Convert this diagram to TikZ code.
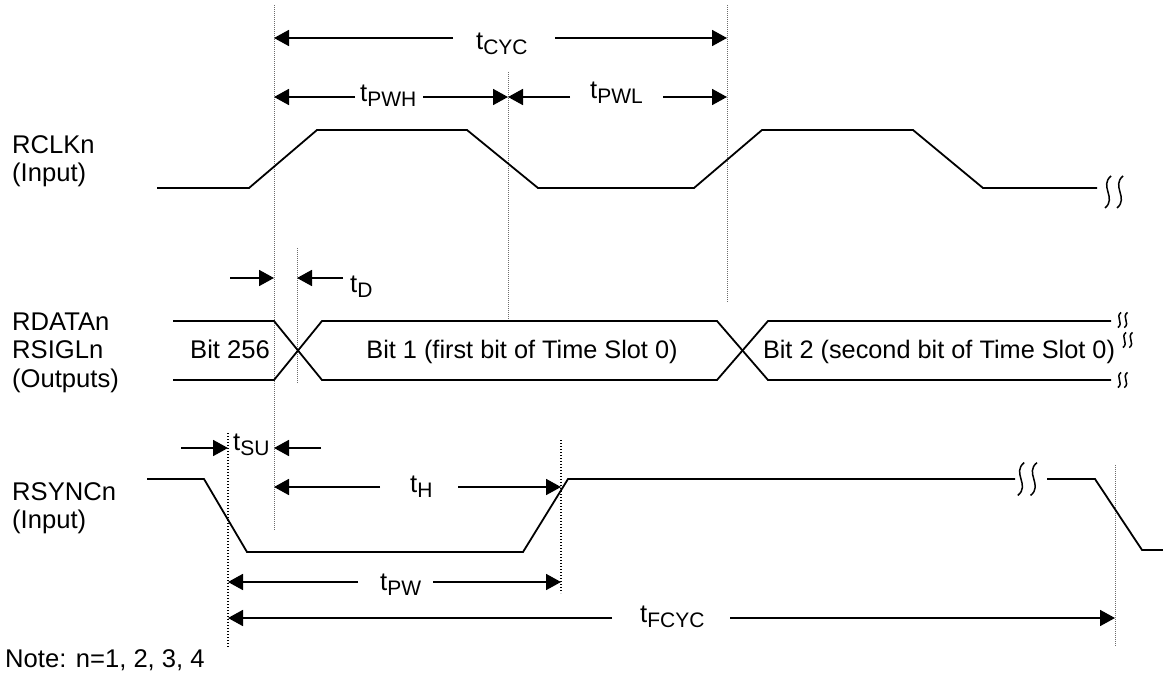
\documentclass[tikz,border=0pt]{standalone}
\usepackage{fontspec}
\setmainfont{Liberation Sans}
\usetikzlibrary{arrows.meta}
\newcommand{\tsig}[1]{t\raisebox{-5pt}{\fontsize{21}{21}\selectfont #1}}
\begin{document}
\begin{tikzpicture}[x=1pt,y=-1pt,
  sig/.style={line width=1.8pt},
  dim/.style={line width=1.8pt,-{Triangle[length=15pt,width=16pt]}},
  guide/.style={gray!85!black,line width=0.8pt,dash pattern=on 1pt off 1pt},
  guideb/.style={black,line width=1.1pt,dash pattern=on 1.2pt off 1.8pt},
  lbl/.style={anchor=base west,inner sep=0pt,font=\fontsize{25.6}{28}\selectfont},
  ctr/.style={anchor=base,inner sep=0pt,font=\fontsize{25.3}{28}\selectfont},
  wig/.pic={\draw[line width=1.5pt] (2,-8) .. controls (-6,-3) and (6,3) .. (-2,8);
            \draw[line width=1.5pt] (10,-8) .. controls (2,-3) and (14,3) .. (6,8);}]
\useasboundingbox (0,0) rectangle (1163,683);

% ---------- left labels ----------
\node[lbl] (rclk) at (12,153) {RCLKn};
\node[lbl] (rclkin) at (12,181) {(Input)};
\node[lbl] (rdata) at (12,330) {RDATAn};
\node[lbl] (rsigl) at (12,358) {RSIGLn};
\node[lbl] (rout) at (12,387) {(Outputs)};
\node[lbl] (rsync) at (12,500) {RSYNCn};
\node[lbl] (rsyncin) at (12,528) {(Input)};
\node[lbl] (note) at (5,667) {Note: n=1, 2, 3, 4};

% ---------- guide lines ----------
\coordinate (g1t) at (274,5);   \coordinate (g1b) at (274,530);
\coordinate (g2t) at (508,72);  \coordinate (g2b) at (508,322);
\coordinate (g3t) at (727,5);   \coordinate (g3b) at (727,302);
\coordinate (g4t) at (297,248); \coordinate (g4b) at (297,383);
\coordinate (g5t) at (228,433); \coordinate (g5b) at (228,647);
\coordinate (g6t) at (561,440); \coordinate (g6b) at (561,593);
\coordinate (g7t) at (1115,465);\coordinate (g7b) at (1115,647);
\draw[guide] (g1t) -- (g1b);
\draw[guide] (g2t) -- (g2b);
\draw[guide] (g3t) -- (g3b);
\draw[guide] (g4t) -- (g4b);
\draw[guideb] (g5t) -- (g5b);
\draw[guideb] (g6t) -- (g6b);
\draw[guide] (g7t) -- (g7b);

% ---------- RCLK ----------
\draw[sig] (157,188) -- (249,188) -- (317,130) -- (467,130) -- (538,188)
  -- (694,188) -- (762,130) -- (913,130) -- (983,188) -- (1097,188);
\pic[xscale=1.5,yscale=2] at (1108,192) {wig};

% ---------- RDATA / RSIGL ----------
\draw[sig] (173,321) -- (274,321) -- (322,380) -- (717,380) -- (768,321) -- (1111,321);
\draw[sig] (173,380) -- (274,380) -- (322,321) -- (717,321) -- (768,380) -- (1111,380);
\pic[xscale=0.8,yscale=0.95] at (1119.5,320) {wig};
\pic[xscale=0.8,yscale=0.95] at (1124.5,340) {wig};
\pic[xscale=0.8,yscale=0.95] at (1119.5,380) {wig};
\node[lbl] (b256) at (190,358) {Bit 256};
\node[ctr] (b1) at (522,358) {Bit 1 (first bit of Time Slot 0)};
\node[ctr] (b2) at (939,358) {Bit 2 (second bit of Time Slot 0)};

% ---------- RSYNC ----------
\draw[sig] (147,479) -- (204,479) -- (247,552) -- (523,552) -- (568,479) -- (1015,479);
\pic[xscale=1.6,yscale=2.05] at (1021,479) {wig};
\draw[sig] (1047,479) -- (1095,479) -- (1142,550) -- (1163,550);

% ---------- timing labels ----------
\node[lbl] (tcyc) at (476,49) {\tsig{CYC}};
\node[lbl] (tpwh) at (360,101) {\tsig{PWH}};
\node[lbl] (tpwl) at (590,98) {\tsig{PWL}};
\node[lbl] (td) at (350,292) {\tsig{D}};
\node[lbl] (tsu) at (233,450) {\tsig{SU}};
\node[lbl] (th) at (410,492) {\tsig{H}};
\node[lbl] (tpw) at (380,590) {\tsig{PW}};
\node[lbl] (tfcyc) at (640,622) {\tsig{FCYC}};

% ---------- dimension arrows ----------
% tCYC
\coordinate (cycL) at (274,38); \coordinate (cycR) at (727,38);
\coordinate (cycA) at (453,38); \coordinate (cycB) at (555,38);
\draw[dim] (cycA) -- (cycL);
\draw[dim] (cycB) -- (cycR);
% tPWH
\coordinate (pwhL) at (274,97); \coordinate (pwhR) at (508,97);
\coordinate (pwhA) at (355,97); \coordinate (pwhB) at (423,97);
\draw[dim] (pwhA) -- (pwhL);
\draw[dim] (pwhB) -- (pwhR);
% tPWL
\coordinate (pwlL) at (508,97); \coordinate (pwlR) at (727,97);
\coordinate (pwlA) at (570,97); \coordinate (pwlB) at (663,97);
\draw[dim] (pwlA) -- (pwlL);
\draw[dim] (pwlB) -- (pwlR);
% tD
\coordinate (tdL) at (274,278); \coordinate (tdR) at (297,278);
\coordinate (tdA) at (230,278); \coordinate (tdB) at (343,278);
\draw[dim] (tdA) -- (tdL);
\draw[dim] (tdB) -- (tdR);
% tSU
\coordinate (suL) at (228,448); \coordinate (suR) at (274,448);
\coordinate (suA) at (181,448); \coordinate (suB) at (321,448);
\draw[dim] (suA) -- (suL);
\draw[dim] (suB) -- (suR);
% tH
\coordinate (hL) at (274,487); \coordinate (hR) at (561,487);
\coordinate (hA) at (380,487); \coordinate (hB) at (458,487);
\draw[dim] (hA) -- (hL);
\draw[dim] (hB) -- (hR);
% tPW
\coordinate (pwL) at (228,582); \coordinate (pwR) at (561,582);
\coordinate (pwA) at (358,582); \coordinate (pwB) at (433,582);
\draw[dim] (pwA) -- (pwL);
\draw[dim] (pwB) -- (pwR);
% tFCYC
\coordinate (fcL) at (228,618); \coordinate (fcR) at (1115,618);
\coordinate (fcA) at (612,618); \coordinate (fcB) at (730,618);
\draw[dim] (fcA) -- (fcL);
\draw[dim] (fcB) -- (fcR);
\end{tikzpicture}
\end{document}
